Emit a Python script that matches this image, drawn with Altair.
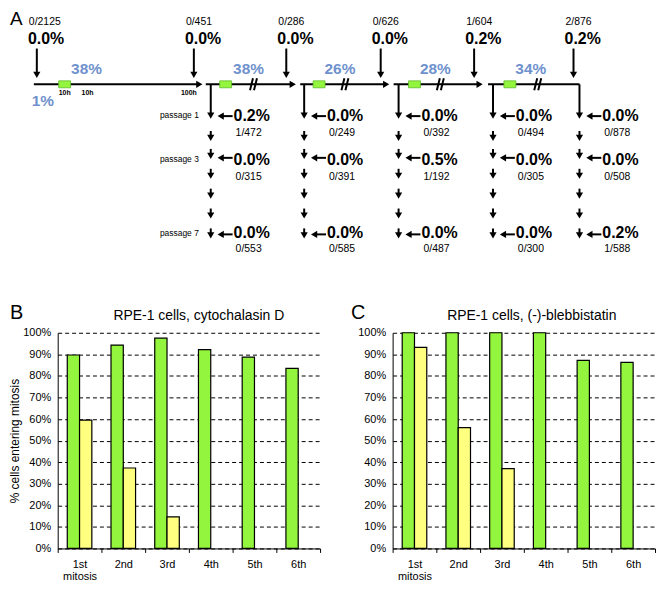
import altair as alt
import pandas as pd

# ------------------------------------------------------------------ data
# Panel A (flow diagram): counts and percentages
top_fracs = ["0/2125", "0/451", "0/286", "0/626", "1/604", "2/876"]
top_pcts = ["0.0%", "0.0%", "0.0%", "0.0%", "0.2%", "0.2%"]
seg_pcts = ["38%", "38%", "26%", "28%", "34%"]
first_pct = ["1%"]
hour_labels = ["10h", "10h", "100h"]
passage_labels = ["passage 1", "passage 3", "passage 7"]
col_pcts = [
    ["0.2%", "0.0%", "0.0%"],
    ["0.0%", "0.0%", "0.0%"],
    ["0.0%", "0.5%", "0.0%"],
    ["0.0%", "0.0%", "0.0%"],
    ["0.0%", "0.0%", "0.2%"],
]
col_fracs = [
    ["1/472", "0/315", "0/553"],
    ["0/249", "0/391", "0/585"],
    ["0/392", "1/192", "0/487"],
    ["0/494", "0/305", "0/300"],
    ["0/878", "0/508", "1/588"],
]

# Panels B and C
mitosis = ["1st\nmitosis", "2nd", "3rd", "4th", "5th", "6th"]
cyto_green = [89.7, 94.3, 97.5, 92.2, 88.7, 83.5]
cyto_yellow = [59.5, 37.3, 14.6, None, None, None]
bleb_green = [100, 100, 100, 100, 87.2, 86.3]
bleb_yellow = [93.2, 56.0, 37.0, None, None, None]

# ------------------------------------------------------------------ style
FONT = "Liberation Sans"
GREEN = "#93F53D"
YELLOW = "#FFFF80"
BLUE = "#6F92CE"

# left extent shared by the panel letters (keeps panel A aligned with B)
LEFT = 48

# ------------------------------------------------------------------ layout of diagram A (page pixels)
OX, OY = 8 + LEFT, 8
A_W, A_H = 656 - OX, 244
top_arrow_x = [35, 193, 286, 381, 475, 575]
seg_x0 = [32, 205, 300, 394, 489]
seg_x1 = [202, 296, 390, 484, 581]
col_x = [210, 304, 399, 494, 581]
green_x0 = [57, 219, 313, 409, 505]
seg_pct_x = [85, 248, 340, 436, 532]
break_x = [253, 345, 441, 539]
hour_x = [63, 86, 188]
LINE_Y = 78
tips = [135, 153, 173, 193, 213, 233]
row_arrow_y = [110, 152, 229]
row_pct_y = [110, 154, 228]
row_frac_y = [127, 171, 244]


def ux(v):
    return v - OX


def uy(v):
    return v - OY


rules, heads = [], []
for ax in top_arrow_x:
    rules.append((ax, 42, ax, 66))
    heads.append((ax, 68.5, "triangle-down"))
for i, (x0, x1) in enumerate(zip(seg_x0, seg_x1)):
    if i < 4:
        rules.append((x0, LINE_Y, x1 - 5, LINE_Y))
        heads.append((x1 - 3.5, LINE_Y, "triangle-right"))
    else:
        rules.append((x0, LINE_Y, x1, LINE_Y))
for bx in break_x:
    rules.append((bx - 3.5, 84, bx - 0.5, 72))
    rules.append((bx + 0.5, 84, bx + 3.5, 72))
for cx in col_x:
    rules.append((cx, LINE_Y, cx, 107))
    heads.append((cx, 109.5, "triangle-down"))
    for t in tips:
        rules.append((cx, t - 10, cx, t - 5))
        heads.append((cx, t - 3, "triangle-down"))
    for ry in row_arrow_y:
        rules.append((cx + 22, ry, cx + 11, ry))
        heads.append((cx + 10, ry, "triangle-left"))

rules_df = pd.DataFrame(
    [dict(x=ux(a), y=uy(b), x2=ux(c), y2=uy(d)) for a, b, c, d in rules]
)
heads_df = pd.DataFrame([dict(x=ux(a), y=uy(b), shape=s) for a, b, s in heads])

xs = alt.Scale(domain=[0, A_W], nice=False, zero=False)
ys = alt.Scale(domain=[0, A_H], nice=False, zero=False, reverse=True)
X = alt.X("x:Q", scale=xs, axis=None)
Y = alt.Y("y:Q", scale=ys, axis=None)

rule_layer = alt.Chart(rules_df).mark_rule(color="black", strokeWidth=2).encode(
    x=X, y=Y, x2="x2:Q", y2="y2:Q"
)
head_layer = alt.Chart(heads_df).mark_point(
    filled=True, color="black", size=52, opacity=1
).encode(x=X, y=Y, shape=alt.Shape("shape:N", scale=None))

green_df = pd.DataFrame(
    [dict(x=ux(g), x2=ux(g + 12), y=uy(74.5), y2=uy(81.5)) for g in green_x0]
)
green_layer = alt.Chart(green_df).mark_rect(
    fill=GREEN, stroke="#5DBB2A", strokeWidth=0.8
).encode(x=X, x2="x2:Q", y=Y, y2="y2:Q")


def text_layer(rows, align="left", size=10, weight="normal", color="black"):
    df = pd.DataFrame([dict(x=ux(a), y=uy(b), t=t) for a, b, t in rows])
    kw = dict(
        align=align, baseline="middle", font=FONT, fontSize=size,
        fontWeight=weight, color=color,
    )
    return alt.Chart(df).mark_text(**kw).encode(x=X, y=Y, text="t:N")


tl = []
tl.append(text_layer([(ax - 8, 15, t) for ax, t in zip(top_arrow_x, top_fracs)], size=10.5))
tl.append(text_layer([(ax - 9, 32, t) for ax, t in zip(top_arrow_x, top_pcts)], size=16, weight="bold"))
tl.append(text_layer([(x, 63, t) for x, t in zip(seg_pct_x, seg_pcts)], align="center", size=15.5, weight="bold", color=BLUE))
tl.append(text_layer([(41, 95, first_pct[0])], align="center", size=15.5, weight="bold", color=BLUE))
tl.append(text_layer([(x, 86.5, t) for x, t in zip(hour_x, hour_labels)], align="center", size=7, weight="bold"))
tl.append(text_layer([(198, y, t) for y, t in zip([109, 153, 228], passage_labels)], align="right", size=8.5))
pct_rows, frac_rows = [], []
for cx, pcts, fracs in zip(col_x, col_pcts, col_fracs):
    for y, t in zip(row_pct_y, pcts):
        pct_rows.append((cx + 23, y, t))
    for y, t in zip(row_frac_y, fracs):
        frac_rows.append((cx + 25, y, t))
tl.append(text_layer(pct_rows, size=16, weight="bold"))
tl.append(text_layer(frac_rows, size=10.5))
tl.append(text_layer([(8, 12, "A")], size=19))

panel_a = alt.layer(rule_layer, green_layer, head_layer, *tl).properties(
    width=A_W, height=A_H
)


# ------------------------------------------------------------------ bar panels
def bar_panel(letter, title, green, yellow, ytitle, letter_x, title_dx, width):
    rows = []
    for c, g, yv in zip(mitosis, green, yellow):
        rows.append({"stage": c, "series": "a", "value": g})
        if yv is not None:
            rows.append({"stage": c, "series": "b", "value": yv})
    df = pd.DataFrame(rows)
    yaxis = dict(
        values=list(range(0, 101, 10)),
        labelExpr="datum.value + '%'",
        grid=True,
        gridColor="black",
        gridDash=[4, 3],
        gridWidth=1,
        ticks=False,
        labelPadding=7,
        labelFontSize=11,
        labelColor="black",
        domainColor="black",
        domainWidth=1,
        labelFont=FONT,
    )
    if ytitle:
        yaxis.update(title=ytitle, titleFontSize=12, titleFontWeight="normal",
                     titleFont=FONT, titleColor="black", titlePadding=1)
    else:
        yaxis.update(title=None)
    bars = alt.Chart(df).mark_bar(stroke="black", strokeWidth=1.2).encode(
        x=alt.X(
            "stage:N", sort=mitosis,
            scale=alt.Scale(paddingInner=0, paddingOuter=0),
            axis=alt.Axis(
                title=None, labelAngle=0, tickBand="extent",
                labelExpr="split(datum.label, '\\n')",
                tickColor="black", tickSize=4, domainColor="black",
                labelFontSize=11, labelColor="black", labelPadding=6,
                labelFont=FONT, labelLineHeight=12.5, grid=False,
            ),
        ),
        xOffset=alt.XOffset(
            "series:N", sort=["a", "b"],
            scale=alt.Scale(paddingInner=0, paddingOuter=0.78),
        ),
        y=alt.Y("value:Q", scale=alt.Scale(domain=[0, 100], nice=False), axis=alt.Axis(**yaxis)),
        color=alt.Color("series:N", scale=alt.Scale(domain=["a", "b"], range=[GREEN, YELLOW]), legend=None),
    )
    lab = alt.Chart(pd.DataFrame({"t": [letter]})).mark_text(
        align="left", baseline="alphabetic", font=FONT, fontSize=20
    ).encode(text="t:N", x=alt.value(letter_x), y=alt.value(-14))
    ttl = alt.Chart(pd.DataFrame({"t": [title]})).mark_text(
        align="center", baseline="alphabetic", font=FONT, fontSize=14
    ).encode(text="t:N", x=alt.value(width / 2 + title_dx), y=alt.value(-13))
    return alt.layer(bars, lab, ttl).properties(width=width, height=217)


panel_b = bar_panel("B", "RPE-1 cells, cytochalasin D", cyto_green, cyto_yellow,
                    "% cells entering mitosis", -LEFT, 10, 264)
panel_c = bar_panel("C", "RPE-1 cells, (-)-blebbistatin", bleb_green, bleb_yellow,
                    None, -42, 8, 264)

bottom = alt.hconcat(panel_b, panel_c, spacing=30)
chart = alt.vconcat(panel_a, bottom, spacing=46).properties(
    padding=0
).configure(font=FONT, view=alt.ViewConfig(stroke=None))

chart.save("out.html", embed_options={"renderer": "svg", "actions": False})
